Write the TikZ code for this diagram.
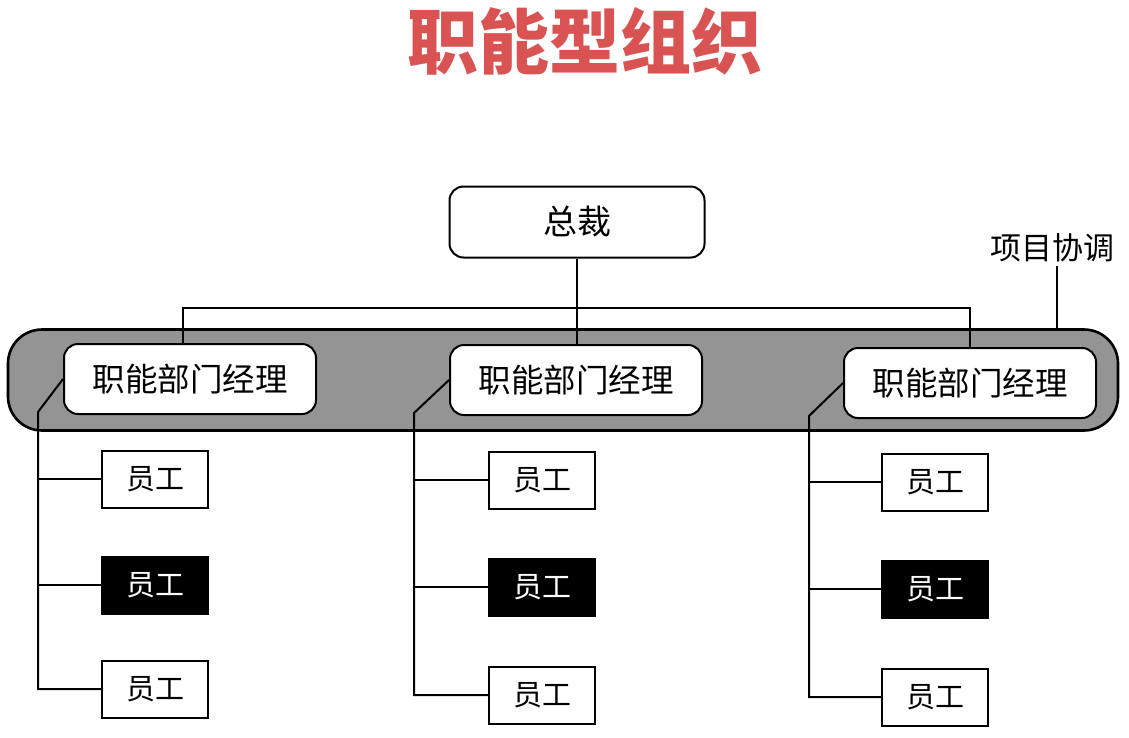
\documentclass[tikz,border=0pt]{standalone}
\usepackage{fontspec}
\setmainfont{Noto Sans CJK SC}
\usetikzlibrary{positioning}
\definecolor{TitleRed}{HTML}{D95352}
\definecolor{BandGray}{HTML}{949494}
\tikzset{
  ceobox/.style={draw,line width=2pt,rounded corners=14pt,fill=white,minimum width=255pt,minimum height=71pt,font=\fontsize{34}{36}\selectfont},
  mgrbox/.style={draw,line width=2pt,rounded corners=14pt,fill=white,minimum width=252pt,minimum height=70pt,font=\fontsize{32.5}{34}\selectfont},
  staffbox/.style={draw,line width=2pt,fill=white,minimum width=106pt,minimum height=57pt,inner sep=0pt,font=\fontsize{29}{30}\selectfont},
  staffdark/.style={staffbox,fill=black,text=white},
  link/.style={line width=2pt}
}
\begin{document}
\begin{tikzpicture}[x=1pt,y=-1pt]
  \useasboundingbox (0,0) rectangle (1129,737);
  \node[font=\fontsize{71}{72}\selectfont\bfseries,text=TitleRed] (title) at (585,41) {职能型组织};
  \node[draw,line width=2.6pt,rounded corners=34pt,fill=BandGray,minimum width=1110pt,minimum height=101pt] (band) at (563,380) {};
  \node[ceobox] (ceo) at (577,222) {总裁};
  \node[font=\fontsize{31}{32}\selectfont] (coord) at (1052,248) {项目协调};
  \foreach \c/\mx/\my/\vx/\bx/\ya/\yb/\yc in {L/190/379/38/101/479/585/689,M/576/380/414/488/480/587/695,R/970/383/809/881/482/589/697}{
    \node[mgrbox] (mgr\c) at (\mx,\my) {职能部门经理};
    \node[staffbox,anchor=west] (s\c1) at (\bx,\ya) {员工};
    \node[staffdark,anchor=west] (s\c2) at (\bx,\yb) {员工};
    \node[staffbox,anchor=west] (s\c3) at (\bx,\yc) {员工};
    \coordinate (t\c) at (\vx,\my+33);
    \draw[link] (mgr\c.west) -- (t\c) |- (s\c3.west);
    \draw[link] (t\c |- s\c1.west) -- (s\c1.west);
    \draw[link] (t\c |- s\c2.west) -- (s\c2.west);
  }
  \coordinate (bus) at (577,308);
  \draw[link] (ceo.south) -- (ceo.south |- mgrM.north);
  \draw[link] ([xshift=-7pt]mgrL.north) |- (bus) -| (mgrR.north);
  \draw[link] ([xshift=5pt]coord.south) -- ([xshift=5pt]coord.south |- band.north);
\end{tikzpicture}
\end{document}
